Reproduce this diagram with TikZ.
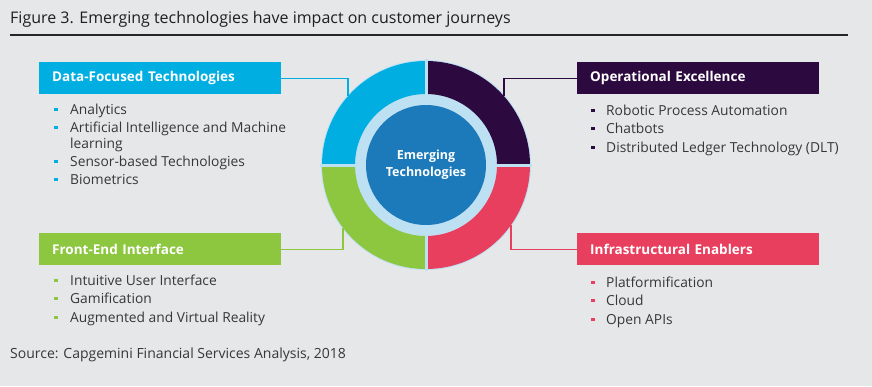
\documentclass[tikz,border=0pt]{standalone}
\usepackage{fontspec}
\setmainfont{Open Sans}
\usetikzlibrary{positioning,calc}
\definecolor{bggrey}{RGB}{230,231,233}
\definecolor{datacol}{RGB}{0,174,226}
\definecolor{opcol}{RGB}{44,10,64}
\definecolor{infcol}{RGB}{233,63,94}
\definecolor{frontcol}{RGB}{141,198,63}
\definecolor{ringcol}{RGB}{190,224,243}
\definecolor{corecol}{RGB}{28,122,186}
\definecolor{txtcol}{RGB}{55,55,58}

\tikzset{
    headbox/.style={anchor=north west, fill=#1, text=white, minimum height=32, inner xsep=13,
        text width=216, align=left, font=\fontsize{13.5}{16}\selectfont\bfseries},
    itemtxt/.style={anchor=base west, inner sep=0, text=txtcol, font=\fontsize{13.8}{16}\selectfont},
    bullet/.style={fill=#1, minimum size=3.6, inner sep=0},
    linkline/.style={draw=#1, line width=1.2},
}

\begin{document}
\begin{tikzpicture}[x=1pt, y=-1pt]
    \fill[bggrey] (0, 0) rectangle (872, 386);
    \useasboundingbox (0, 0) rectangle (872, 386);

    % title
    \node[anchor=base west, inner sep=0, text=black!88, font=\fontsize{16}{19}\selectfont] (title) at (10, 23)
        {Figure 3. Emerging technologies have impact on customer journeys};
    \coordinate (ruleL) at (10, 35);
    \coordinate (ruleR) at (848, 35);
    \draw[line width=2, black!85] (ruleL) -- (ruleR);

    % ring
    \coordinate (ctr) at (426, 165);
    \fill[ringcol] (ctr) circle (105);
    \foreach \a/\col in {180/datacol, 270/opcol, 0/infcol, 90/frontcol} {
        \fill[\col] ($(ctr)+(\a:104)$) arc[start angle=\a, end angle=\a+90, radius=104]
            -- ($(ctr)+(\a+90:71)$) arc[start angle=\a+90, end angle=\a, radius=71] -- cycle;
    }
    \draw[ringcol, line width=3] ($(ctr)+(-106, 0)$) -- ($(ctr)+(106, 0)$);
    \draw[ringcol, line width=3] ($(ctr)+(0, -106)$) -- ($(ctr)+(0, 106)$);
    \node[circle, fill=corecol, minimum size=120, inner sep=0, align=center, text=white,
        font=\fontsize{12.5}{17}\selectfont\bfseries] (core) at (ctr) {Emerging\\Technologies};

    % headers
    \node[headbox=datacol] (data) at (39, 62) {Data-Focused Technologies};
    \node[headbox=opcol] (oper) at (577, 62) {Operational Excellence};
    \node[headbox=frontcol] (front) at (39, 233) {Front-End Interface};
    \node[headbox=infcol] (infra) at (577, 233) {Infrastructural Enablers};

    % links to the ring
    \coordinate (dataring) at ($(ctr)+(-78, -69)$);
    \coordinate (operring) at ($(ctr)+(78, -69)$);
    \coordinate (frontring) at ($(ctr)+(-83, 63)$);
    \coordinate (infraring) at ($(ctr)+(85, 60)$);
    \draw[linkline=datacol] (data.east) -| (dataring);
    \draw[linkline=opcol] (oper.west) -| (operring);
    \draw[linkline=frontcol] (front.east) -| (frontring);
    \draw[linkline=infcol] (infra.west) -| (infraring);

    % lists
    \foreach \t/\y [count=\i] in {Analytics/114, Artificial Intelligence and Machine/132,
        Sensor-based Technologies/166, Biometrics/184} {
        \node[itemtxt] (dataitem\i) at (70, \y) {\t};
        \node[bullet=datacol] (databul\i) at (56, \y-4.5) {};
    }
    \node[itemtxt] (dataitem2b) at (70, 148) {learning};

    \foreach \t/\y [count=\i] in {Robotic Process Automation/115, Chatbots/133,
        Distributed Ledger Technology (DLT)/152} {
        \node[itemtxt] (operitem\i) at (606, \y) {\t};
        \node[bullet=opcol] (operbul\i) at (593, \y-4.5) {};
    }

    \foreach \t/\y [count=\i] in {Intuitive User Interface/285, Gamification/303,
        Augmented and Virtual Reality/322} {
        \node[itemtxt] (frontitem\i) at (70, \y) {\t};
        \node[bullet=frontcol] (frontbul\i) at (56, \y-4.5) {};
    }

    \foreach \t/\y [count=\i] in {Platformification/287, Cloud/305, Open APIs/324} {
        \node[itemtxt] (infraitem\i) at (606, \y) {\t};
        \node[bullet=infcol] (infrabul\i) at (593, \y-4.5) {};
    }

    % source
    \node[itemtxt, font=\fontsize{14}{16}\selectfont] (source) at (10, 358)
        {Source: Capgemini Financial Services Analysis, 2018};
\end{tikzpicture}
\end{document}
